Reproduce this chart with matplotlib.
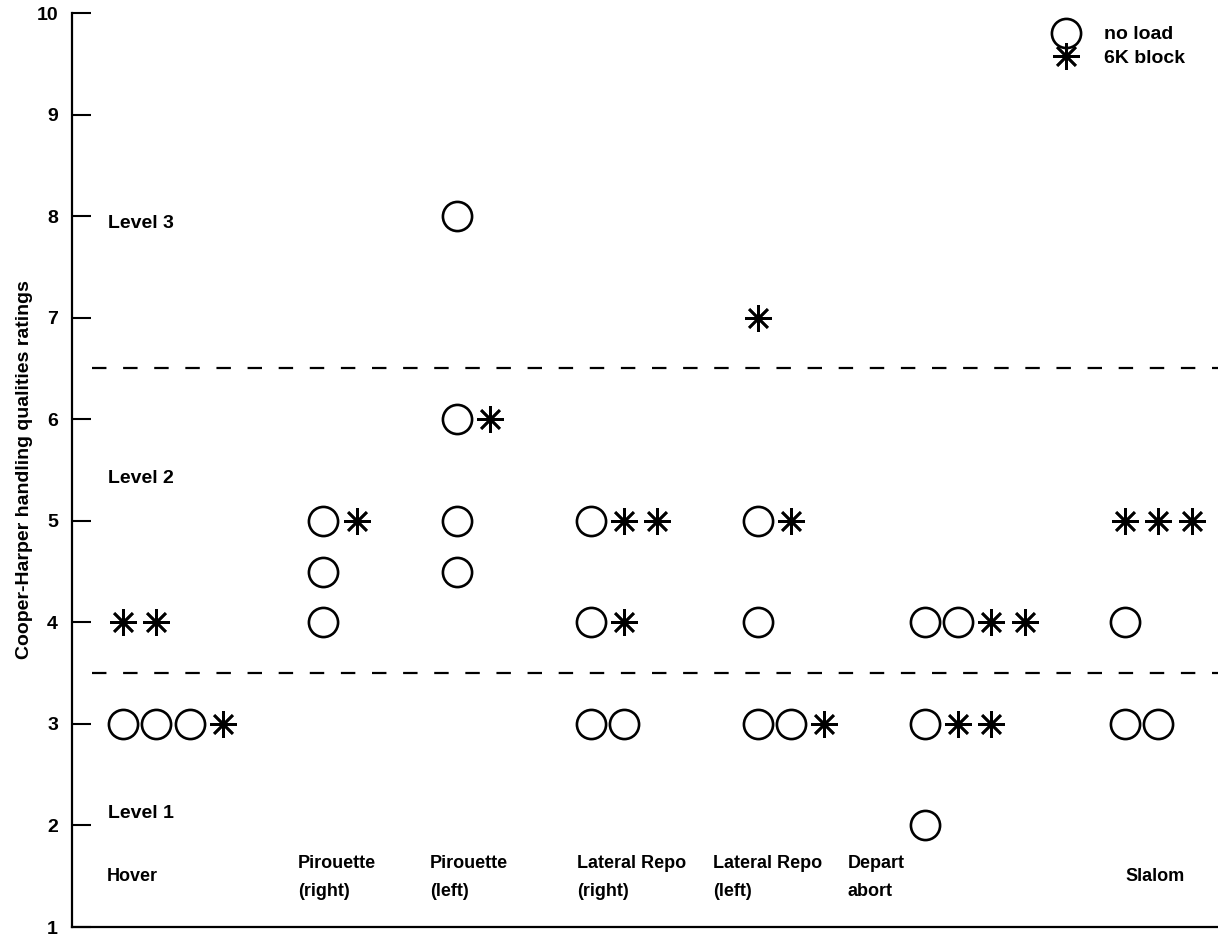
import numpy as np
import matplotlib.pyplot as plt

plt.rcParams['font.family'] = ['Liberation Sans', 'DejaVu Sans']
plt.rcParams['font.weight'] = 'bold'

# handling qualities ratings per manoeuvre
categories = ['Hover', 'Pirouette\n(right)', 'Pirouette\n(left)', 'Lateral Repo\n(right)',
              'Lateral Repo\n(left)', 'Depart\nabort', 'Slalom']
no_load = [[3, 3, 3], [5, 4.5, 4], [8, 6, 5, 4.5], [5, 4, 3, 3], [5, 4, 3, 3], [4, 4, 3, 2], [4, 3, 3]]
block_6k = [[4, 4, 3], [5], [6], [5, 5, 4], [7, 5, 3], [4, 4, 3, 3], [5, 5, 5]]
level_bounds = [3.5, 6.5]
levels = ['Level 1', 'Level 2', 'Level 3']
ytick_vals = [1, 2, 3, 4, 5, 6, 7, 8, 9, 10]

# layout: marker slots along x, label positions
col = [0, 6, 10, 14, 19, 24, 30]
lab_x = [-0.48, 5.24, 9.19, 13.6, 17.66, 21.7, 30.0]
level_y = [2.12, 5.42, 7.93]

fig = plt.figure(figsize=(12.18, 9.36), dpi=100)
ax = fig.add_axes([72/1218, 1-927/936, 1-72/1218, (927-13)/936])

# circles first, then stars, on each rating row
xo, yo, xs, ys = [], [], [], []
for i in range(len(categories)):
    for r in sorted(set(no_load[i] + block_6k[i])):
        n_o = no_load[i].count(r)
        n_s = block_6k[i].count(r)
        for k in range(n_o):
            xo.append(col[i] + k); yo.append(r)
        for k in range(n_s):
            xs.append(col[i] + n_o + k); ys.append(r)

ax.plot(xo, yo, ls='none', marker='o', ms=21, mfc='none', mec='k', mew=1.9, label='no load')
ax.plot(xs, ys, ls='none', marker=(8, 2, 0), ms=19, mec='k', mew=1.9, label='6K block')

for b in level_bounds:
    ax.axhline(b, xmin=20/1146, color='k', lw=1.6, dashes=(6.5, 7.5))

for name, y in zip(levels, level_y):
    ax.text(-0.45, y, name, fontsize=14, fontweight='bold', va='center', ha='left')

for i, name in enumerate(categories):
    yy = 1.49 if '\n' in name else 1.5
    ax.text(lab_x[i], yy, name, fontsize=13, fontweight='bold', va='center', ha='left',
            linespacing=1.85)

ax.set_xlim(-51/33.4, 1095/33.4)
ax.set_ylim(1, 10)
ax.set_yticks(ytick_vals)
ax.set_yticklabels([str(v) for v in ytick_vals])
ax.set_xticks([])
ax.tick_params(axis='y', direction='in', length=13.5, width=1.5, pad=10, labelsize=14)

ax.spines['top'].set_visible(False)
ax.spines['right'].set_visible(False)
ax.spines['left'].set_linewidth(1.6)
ax.spines['bottom'].set_linewidth(1.6)

ax.set_ylabel('Cooper-Harper handling qualities ratings', fontsize=14, fontweight='bold')
ax.yaxis.set_label_coords(-0.034, 0.5)

ax.legend(loc='upper left', bbox_to_anchor=(0.855, 0.986), frameon=False, fontsize=14,
          borderpad=0, borderaxespad=0, handlelength=1.5, handletextpad=1.2,
          labelspacing=0.32, numpoints=1)

fig.savefig('out.png', dpi=100)
